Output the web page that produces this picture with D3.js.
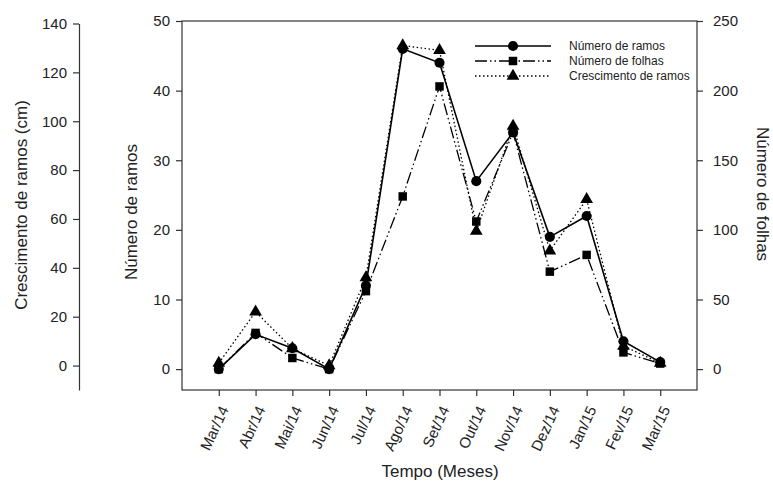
<!DOCTYPE html>
<html>
<head>
<meta charset="utf-8">
<script src="https://cdn.jsdelivr.net/npm/d3@7"></script>
<style>
  html, body { margin: 0; padding: 0; background: #fff; }
  svg { display: block; font-family: "Liberation Sans", Arial, sans-serif; }
</style>
</head>
<body>
<svg id="chart" width="773" height="486"></svg>
<script>
// Monthly series, Mar/14 to Mar/15
const months = ["Mar/14","Abr/14","Mai/14","Jun/14","Jul/14","Ago/14","Set/14","Out/14","Nov/14","Dez/14","Jan/15","Fev/15","Mar/15"];
const numeroRamos = [0, 5, 3, 0, 12, 46, 44, 27, 34, 19, 22, 4, 1];
const numeroFolhas = [0, 26, 8, 0, 56, 124, 203, 106, 170, 70, 82, 12, 4];
const crescimentoRamos = [1, 22, 7, 0, 36, 131, 129, 55, 98, 47, 68, 8, 1];

const ramosTicks = [0, 10, 20, 30, 40, 50];
const folhasTicks = [0, 50, 100, 150, 200, 250];
const crescTicks = [0, 20, 40, 60, 80, 100, 120, 140];

const svg = d3.select("#chart");
const plot = { left: 182, right: 697, top: 21, bottom: 390 };

const x = d3.scaleLinear().domain([-1, 13]).range([plot.left, plot.right]);
const yRamos = d3.scaleLinear().domain([-3, 50]).range([plot.bottom, plot.top]);
const yFolhas = d3.scaleLinear().domain([-15, 250]).range([plot.bottom, plot.top]);
const yCresc = d3.scaleLinear().domain([-10, 140]).range([plot.bottom, 23.5]);

const axisColor = "#333";
const tickFont = 15;

function styleAxis(g) {
  g.selectAll("path.domain").attr("stroke", axisColor).attr("stroke-width", 1.2);
  g.selectAll(".tick line").attr("stroke", axisColor).attr("stroke-width", 1.2);
  g.selectAll(".tick text").attr("fill", "#222").style("font-size", tickFont + "px")
    .style("font-family", "'Liberation Sans', Arial, sans-serif");
}

// Plot frame
svg.append("rect")
  .attr("x", plot.left).attr("y", plot.top)
  .attr("width", plot.right - plot.left).attr("height", plot.bottom - plot.top)
  .attr("fill", "none").attr("stroke", axisColor).attr("stroke-width", 1.2);

// Left axis: Número de ramos
svg.append("g").attr("transform", `translate(${plot.left},0)`)
  .call(d3.axisLeft(yRamos).tickValues(ramosTicks).tickSize(6).tickPadding(6).tickSizeOuter(0))
  .call(styleAxis)
  .call(g => g.select("path.domain").remove());

// Right axis: Número de folhas
svg.append("g").attr("transform", `translate(${plot.right},0)`)
  .call(d3.axisRight(yFolhas).tickValues(folhasTicks).tickSize(6).tickPadding(10).tickSizeOuter(0))
  .call(styleAxis)
  .call(g => g.select("path.domain").remove());

// Offset axis: Crescimento de ramos
const crescAxisX = 79;
svg.append("g").attr("transform", `translate(${crescAxisX},0)`)
  .call(d3.axisLeft(yCresc).tickValues(crescTicks).tickSize(6).tickPadding(6).tickSizeOuter(0))
  .call(styleAxis);

// Bottom axis with rotated month labels
const xAxis = svg.append("g").attr("transform", `translate(0,${plot.bottom})`)
  .call(d3.axisBottom(x).tickValues(d3.range(months.length)).tickFormat(i => months[i]).tickSize(6).tickSizeOuter(0))
  .call(styleAxis)
  .call(g => g.select("path.domain").remove());
xAxis.selectAll(".tick text")
  .attr("text-anchor", "end")
  .attr("x", 0).attr("y", 0)
  .attr("dx", 0)
  .attr("dy", "0.35em")
  .attr("transform", "translate(5,17) rotate(-65)");

// Axis titles
const titleFont = 17;
svg.append("text").attr("transform", "translate(27,205) rotate(-90)")
  .attr("text-anchor", "middle").style("font-size", titleFont + "px").attr("fill", "#222")
  .text("Crescimento de ramos (cm)");
svg.append("text").attr("transform", "translate(137,212) rotate(-90)")
  .attr("text-anchor", "middle").style("font-size", titleFont + "px").attr("fill", "#222")
  .text("Número de ramos");
svg.append("text").attr("transform", "translate(757,194) rotate(90)")
  .attr("text-anchor", "middle").style("font-size", titleFont + "px").attr("fill", "#222")
  .text("Número de folhas");
svg.append("text").attr("x", 440).attr("y", 477)
  .attr("text-anchor", "middle").style("font-size", titleFont + "px").attr("fill", "#222")
  .text("Tempo (Meses)");

// Series definitions
const series = [
  { name: "Número de ramos", values: numeroRamos, y: yRamos, dash: null, width: 1.6, symbol: d3.symbolCircle, size: 80 },
  { name: "Número de folhas", values: numeroFolhas, y: yFolhas, dash: "12,3,1.5,3,1.5,3", width: 1.3, symbol: d3.symbolSquare, size: 72 },
  { name: "Crescimento de ramos", values: crescimentoRamos, y: yCresc, dash: "1.5,2.5", width: 1.3, symbol: d3.symbolTriangle, size: 70 }
];

const drawOrder = [2, 1, 0];
drawOrder.forEach(k => {
  const s = series[k];
  const line = d3.line().x((d, i) => x(i)).y(d => s.y(d));
  svg.append("path").datum(s.values)
    .attr("d", line).attr("fill", "none").attr("stroke", "#000")
    .attr("stroke-width", s.width)
    .attr("stroke-dasharray", s.dash);
});
drawOrder.forEach(k => {
  const s = series[k];
  svg.append("g").selectAll("path").data(s.values).join("path")
    .attr("transform", (d, i) => `translate(${x(i)},${s.y(d)})`)
    .attr("d", d3.symbol().type(s.symbol).size(s.size))
    .attr("fill", "#000");
});

// Legend
const legend = svg.append("g").attr("transform", "translate(475,46)");
series.forEach((s, i) => {
  const row = legend.append("g").attr("transform", `translate(0,${i * 15})`);
  row.append("line").attr("x1", 0).attr("x2", 76).attr("y1", 0).attr("y2", 0)
    .attr("stroke", "#000").attr("stroke-width", s.width).attr("stroke-dasharray", s.dash);
  row.append("path").attr("transform", "translate(38,0)")
    .attr("d", d3.symbol().type(s.symbol).size(s.size)).attr("fill", "#000");
  row.append("text").attr("x", 94).attr("y", 0).attr("dy", "0.35em")
    .style("font-size", "12px").attr("fill", "#222").text(s.name);
});
</script>
</body>
</html>
